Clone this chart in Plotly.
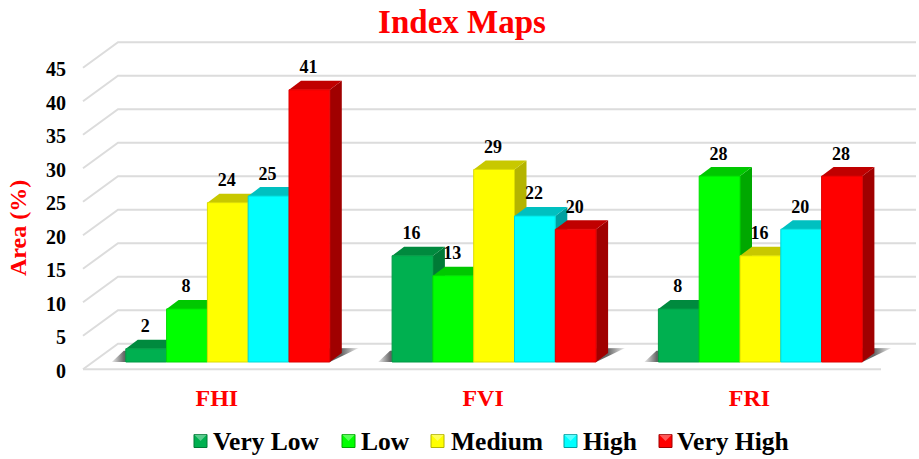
import plotly.graph_objects as go

# Chart data
categories = ["FHI", "FVI", "FRI"]
classes = ["Very Low", "Low", "Medium", "High", "Very High"]
very_low = [2, 16, 8]
low = [8, 13, 28]
medium = [24, 29, 16]
high = [25, 22, 20]
very_high = [41, 20, 28]
y_ticks = [0, 5, 10, 15, 20, 25, 30, 35, 40, 45]

series = [very_low, low, medium, high, very_high]
front_colors = ["#00b050", "#00ff00", "#ffff00", "#00ffff", "#ff0000"]
edge_colors = ["#009a45", "#00dc00", "#dcdc00", "#00d8d8", "#dc0000"]
top_colors = ["#008a3e", "#00c800", "#c8c800", "#00c0c0", "#c00000"]
side_colors = ["#007a36", "#00a800", "#b4b400", "#00a0a0", "#a00000"]
legend_squares = [194, 342, 431, 564, 659]
legend_texts = [211, 359, 449, 581, 675]

# Page geometry in pixels
W, H = 919, 459
PLOT_BOTTOM = 375
CAT0_PX, CAT_STEP = 227.8, 266.3
CAT_LABEL_SHIFT = 11.0
BAR_PX = 40.8
GRID_ZERO_PX, GRID_UNIT = 369.3, 6.7
BAR_ZERO_PX, BAR_UNIT = 362.0, 6.64
WALL_LEFT_PX, WALL_RIGHT_PX = 83.0, 881.0
WALL_DX, WALL_DY = 35.0, 25.6
BAR_DX, BAR_DY = 12.0, 9.0
LABEL_RISE = 21.0
TICK_LABEL_DROP = 1.5


def to_x(px):
    return (px - CAT0_PX) / CAT_STEP


x_range = [to_x(0), to_x(W)]
grid_range = [(GRID_ZERO_PX - PLOT_BOTTOM) / GRID_UNIT, GRID_ZERO_PX / GRID_UNIT]
bar_range = [(BAR_ZERO_PX - PLOT_BOTTOM) / BAR_UNIT, BAR_ZERO_PX / BAR_UNIT]
bar_w = BAR_PX / CAT_STEP
ddx = BAR_DX / CAT_STEP
ddy = BAR_DY / BAR_UNIT

fig = go.Figure()


def polygon(xs, ys, color, yaxis):
    fig.add_trace(go.Scatter(
        x=xs, y=ys, mode="lines", fill="toself", fillcolor=color,
        line=dict(width=0), yaxis=yaxis, hoverinfo="skip", showlegend=False,
    ))


# Back wall, side wall and floor lines
GRID_COLOR = "#dcdcdc"
wall_dx = WALL_DX / CAT_STEP
wall_dy = WALL_DY / GRID_UNIT
left, right = to_x(WALL_LEFT_PX), to_x(WALL_RIGHT_PX)
grid_x, grid_y = [], []
for t in y_ticks:
    grid_x += [left, left + wall_dx, right + wall_dx, None]
    grid_y += [t, t + wall_dy, t + wall_dy, None]
grid_x += [left, right]
grid_y += [0, 0]
fig.add_trace(go.Scatter(
    x=grid_x, y=grid_y, mode="lines", line=dict(color=GRID_COLOR, width=2),
    yaxis="y", hoverinfo="skip", showlegend=False,
))

# Soft floor shadow beneath each bar group
sh_h = 14 / BAR_UNIT
for i in range(len(categories)):
    x0 = i - 2.5 * bar_w
    x1 = i + 2.5 * bar_w
    fig.add_trace(go.Scatter(
        x=[x0 - 14 / CAT_STEP, x0 - 2 / CAT_STEP, x1 + 29 / CAT_STEP, x1, x0 - 14 / CAT_STEP],
        y=[0, sh_h * 0.8, sh_h, 0, 0],
        mode="lines", line=dict(width=0), fill="toself",
        fillgradient=dict(
            type="horizontal",
            colorscale=[[0, "rgba(110,110,110,0.15)"], [0.05, "#666666"],
                        [0.93, "#666666"], [1, "rgba(110,110,110,0.1)"]],
        ),
        yaxis="y2", hoverinfo="skip", showlegend=False,
    ))

# Top and side faces of each bar, painted left to right
for j, values in enumerate(series):
    for i, v in enumerate(values):
        x0 = i + (j - 2.5) * bar_w
        x1 = x0 + bar_w
        polygon([x1, x1 + ddx, x1 + ddx, x1, x1],
                [0, ddy, v + ddy, v, 0], side_colors[j], "y2")
        polygon([x0, x1, x1 + ddx, x0 + ddx, x0],
                [v, v, v + ddy, v + ddy, v], top_colors[j], "y2")

# Front faces sit on an overlaying axis so they hide the faces behind them
for j, values in enumerate(series):
    fig.add_trace(go.Bar(
        x=[i + (j - 2) * bar_w for i in range(len(categories))],
        y=values, width=bar_w, name=classes[j],
        marker=dict(color=front_colors[j], line=dict(color=edge_colors[j], width=1)),
        yaxis="y3", showlegend=False,
    ))

# Value labels above each bar
for j, values in enumerate(series):
    fig.add_trace(go.Scatter(
        x=[i + (j - 2) * bar_w - 1 / CAT_STEP for i in range(len(categories))],
        y=[v + LABEL_RISE / BAR_UNIT for v in values],
        mode="text", text=[str(v) for v in values], textposition="middle center",
        textfont=dict(family="Liberation Serif", size=18, color="black", weight="bold"),
        yaxis="y3", hoverinfo="skip", showlegend=False,
    ))

# Key along the bottom edge; paper coordinates span the plot area, which ends at PLOT_BOTTOM
shapes, annotations = [], []
LEG_Y, LEG_S = 441.0, 13.0


def paper_y(px):
    return 1 - px / PLOT_BOTTOM


for j, name in enumerate(classes):
    sx = legend_squares[j]
    x_a, x_b = sx / W, (sx + LEG_S) / W
    y_a, y_b = paper_y(LEG_Y - LEG_S / 2), paper_y(LEG_Y + LEG_S / 2)
    shapes.append(dict(type="rect", xref="paper", yref="paper", x0=x_a, x1=x_b, y0=y_a, y1=y_b,
                       fillcolor=front_colors[j], line=dict(color=side_colors[j], width=1)))
    shapes.append(dict(type="path", xref="paper", yref="paper",
                       path=f"M {x_a} {y_a} L {x_b} {y_a} L {(x_a + x_b) / 2} {(y_a + y_b) / 2} Z",
                       fillcolor="rgba(255,255,255,0.35)", line=dict(width=0)))
    annotations.append(dict(
        x=legend_texts[j] / W, y=paper_y(LEG_Y), xref="paper", yref="paper",
        xanchor="left", yanchor="middle", text=name, showarrow=False,
        font=dict(family="Liberation Serif", size=25.5, color="black", weight="bold"),
    ))

# Rotated value-axis caption
annotations.append(dict(
    x=18 / W, y=paper_y(228), xref="paper", yref="paper",
    xanchor="center", yanchor="middle", text="Area (%)", textangle=-90, showarrow=False,
    font=dict(family="Liberation Serif", size=24, color="#ff0000", weight="bold"),
))

fig.update_layout(
    width=W, height=H, autosize=False,
    margin=dict(l=0, r=0, t=0, b=H - PLOT_BOTTOM),
    paper_bgcolor="white", plot_bgcolor="rgba(0,0,0,0)",
    barmode="overlay", showlegend=False,
    title=dict(text="Index Maps", x=462 / W, xanchor="center", xref="paper",
               y=1 - 21 / H, yanchor="middle", yref="container",
               font=dict(family="Liberation Serif", size=33, color="#ff0000", weight="bold")),
    xaxis=dict(range=x_range,
               tickvals=[i - CAT_LABEL_SHIFT / CAT_STEP for i in range(len(categories))],
               ticktext=categories,
               showgrid=False, zeroline=False, showline=False, ticks="",
               ticklabelstandoff=6,
               tickfont=dict(family="Liberation Serif", size=24, color="#ff0000", weight="bold")),
    yaxis=dict(range=grid_range,
               tickvals=[t - TICK_LABEL_DROP / GRID_UNIT for t in y_ticks],
               ticktext=[str(t) for t in y_ticks],
               anchor="free", position=WALL_LEFT_PX / W,
               showgrid=False, zeroline=False, showline=False, ticks="",
               ticklabelstandoff=17,
               tickfont=dict(family="Liberation Serif", size=20, color="black", weight="bold")),
    yaxis2=dict(range=bar_range, overlaying="y", visible=False),
    yaxis3=dict(range=bar_range, overlaying="y", visible=False),
    shapes=shapes, annotations=annotations,
)

fig.write_html("out.html", config=dict(displayModeBar=False))
